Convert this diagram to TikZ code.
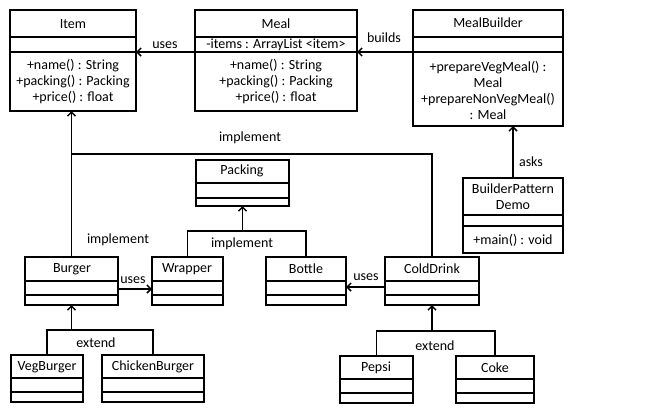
\documentclass[tikz,border=0pt]{standalone}
\usepackage{fontspec}
\setmainfont{Carlito}
\usetikzlibrary{calc}
\usetikzlibrary{arrows.meta}

\tikzset{
  cls/.style={draw, line width=1.5pt, anchor=north west, inner sep=0pt, outer sep=0pt},
  sep/.style={line width=1.5pt},
  txt/.style={font=\fontsize{14}{16}\selectfont, inner sep=1pt, align=center},
  rel/.style={-{Straight Barb[length=4pt,width=8pt]}, line width=1.5pt}
}
% class box: name, x, y, width, height, first and second divider
\newcommand{\umlclass}[7]{%
  \node[cls, minimum width=#4pt, minimum height=#5pt] (#1) at (#2,#3) {};
  \draw[sep] ($(#1.north west)+(0,#6)$) -- ($(#1.north east)+(0,#6)$);
  \draw[sep] ($(#1.north west)+(0,#7)$) -- ($(#1.north east)+(0,#7)$);
}

\begin{document}
\begin{tikzpicture}[x=1pt,y=-1pt]
      \useasboundingbox (0,0) rectangle (656,410);
      \umlclass{item}{10}{10}{126}{101}{27}{42}
      \umlclass{meal}{195}{10}{162}{101}{27}{42}
      \umlclass{builder}{413}{10}{150}{116}{27}{42}
      \umlclass{demo}{463}{178}{100}{75}{37}{48}
      \umlclass{packing}{196}{160}{93}{46}{23}{38}
      \umlclass{burger}{25}{257}{93}{48}{24}{38}
      \umlclass{wrapper}{152}{257}{71}{48}{24}{38}
      \umlclass{bottle}{266}{257}{80}{48}{24}{38}
      \umlclass{colddrink}{385}{257}{94}{48}{24}{38}
      \umlclass{vegburger}{11}{355}{72}{47}{23}{37}
      \umlclass{chicken}{102}{355}{102}{47}{23}{37}
      \umlclass{pepsi}{340}{356}{73}{47}{23}{37}
      \umlclass{coke}{456}{356}{78}{47}{23}{37}
      % class texts
      \node[txt] (itemname) at (73,24) {Item};
      \node[txt] (itemops) at (73,82) {+name() : String\\+packing() : Packing\\+price() : float};
      \node[txt] (mealname) at (276,24) {Meal};
      \node[txt] (mealattr) at (276,45) {-items : ArrayList <item>};
      \node[txt] (mealops) at (276,82) {+name() : String\\+packing() : Packing\\+price() : float};
      \node[txt] (buildername) at (488,23) {MealBuilder};
      \node[txt, text depth=0pt] (builderops) at (488,90) {+prepareVegMeal() :\\Meal\\+prepareNonVegMeal()\\: Meal};
      \node[txt] (demoname) at (513,197) {BuilderPattern\\Demo};
      \node[txt] (demoops) at (513,240) {+main() : void};
      \node[txt] (packingname) at (242,171) {Packing};
      \node[txt] (burgername) at (72,269) {Burger};
      \node[txt] (wrappername) at (187,269) {Wrapper};
      \node[txt] (bottlename) at (306,269) {Bottle};
      \node[txt] (colddrinkname) at (432,269) {ColdDrink};
      \node[txt] (vegburgername) at (47,367) {VegBurger};
      \node[txt] (chickenname) at (153,367) {ChickenBurger};
      \node[txt] (pepsiname) at (376,368) {Pepsi};
      \node[txt] (cokename) at (495,368) {Coke};
      % relations
      \draw[rel] ($(meal.north west)+(0,42)$) -- ($(item.north east)+(0,42)$);
      \draw[rel] ($(builder.north west)+(0,42)$) -- ($(meal.north east)+(0,42)$);
      \draw[rel] (demo.north) -- (demo.north |- builder.south);
      \coordinate (itemjoin) at (72,154);
      \draw[rel] (burger.north) -- (burger.north |- item.south);
      \draw[sep] (colddrink.north) |- (burger.north |- itemjoin);
      \coordinate (packjoin) at (242,231);
      \draw[rel] (packing.south |- packjoin) -- (packing.south);
      \draw[sep] (wrapper.north) |- (packjoin) -| (bottle.north);
      \draw[rel] ($(burger.north east)+(0,32)$) -- ($(wrapper.north west)+(0,32)$);
      \draw[rel] ($(colddrink.north west)+(0,30)$) -- ($(bottle.north east)+(0,30)$);
      \coordinate (burgerjoin) at (72,330);
      \draw[rel] (burger.south |- burgerjoin) -- (burger.south);
      \draw[sep] (vegburger.north) |- (burgerjoin) -| (chicken.north);
      \coordinate (drinkjoin) at (432,331);
      \draw[rel] (colddrink.south |- drinkjoin) -- (colddrink.south);
      \draw[sep] (pepsi.north) |- (drinkjoin) -| (coke.north);
      % labels
      \node[txt] (usesa) at (165,45) {uses};
      \node[txt] (builds) at (384,38) {builds};
      \node[txt] (asks) at (531,162) {asks};
      \node[txt] (impla) at (250,138) {implement};
      \node[txt] (implb) at (118,240) {implement};
      \node[txt] (implc) at (242,244) {implement};
      \node[txt] (usesb) at (133,280) {uses};
      \node[txt] (usesc) at (366,277) {uses};
      \node[txt] (extenda) at (96,343) {extend};
      \node[txt] (extendb) at (435,346) {extend};
\end{tikzpicture}
\end{document}
